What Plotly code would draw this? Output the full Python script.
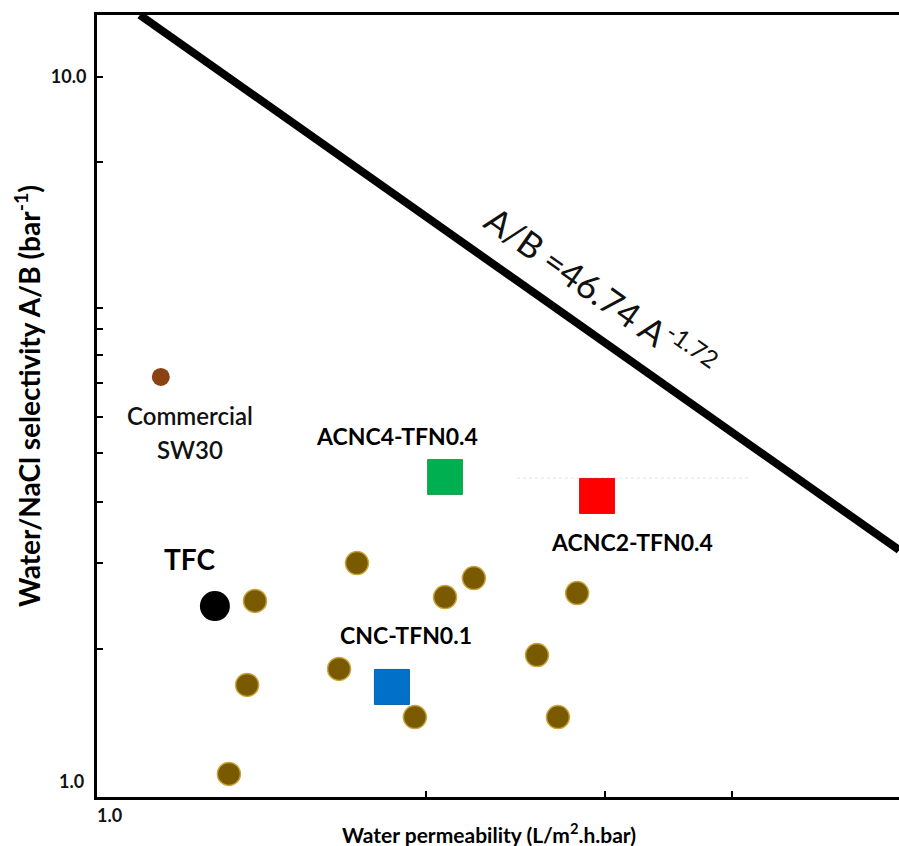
import numpy as np
import plotly.graph_objects as go

# ---------------- data ----------------
sw30_x = [1.097]
sw30_y = [3.76]

tfc_x = [1.240]
tfc_y = [1.781]

other_x = [1.358, 1.334, 1.280, 1.711, 2.089, 2.230, 2.818, 1.643, 2.573, 1.951, 2.698]
other_y = [1.811, 1.377, 1.030, 2.049, 1.834, 1.951, 1.858, 1.451, 1.518, 1.240, 1.240]

acnc4_x = [2.089]
acnc4_y = [2.713]

acnc2_x = [2.948]
acnc2_y = [2.550]

cnc_x = [1.852]
cnc_y = [1.368]

# upper-bound trade-off line (end points)
bound_x = [1.046, 5.845]
bound_y = [12.24, 2.138]

# faint dotted guide
guide_x = [2.459, 4.17]
guide_y = [2.704, 2.704]

x_tick_vals = [2, 3, 4]
y_tick_vals = [10, 7.58, 4.71, 4.40, 4.04, 3.69, 3.30, 2.93, 2.50, 2.05, 1.55]
y_tick_text = ["10.0", "", "", "", "", "", "", "", "", "", ""]

FONT = "Lato, 'Open Sans', sans-serif"

fig = go.Figure()

fig.add_trace(go.Scatter(x=guide_x, y=guide_y, mode="lines",
                         line=dict(color="#ebebeb", width=1.5, dash="dot"),
                         hoverinfo="skip"))
fig.add_trace(go.Scatter(x=bound_x, y=bound_y, mode="lines",
                         line=dict(color="black", width=8)))

fig.add_trace(go.Scatter(x=other_x, y=other_y, mode="markers",
                         marker=dict(symbol="circle", size=23, color="#7a5a00",
                                     line=dict(color="#c9a43a", width=1.5))))
fig.add_trace(go.Scatter(x=sw30_x, y=sw30_y, mode="markers",
                         marker=dict(symbol="circle", size=18, color="#8b4212",
                                     line=dict(width=0))))
fig.add_trace(go.Scatter(x=tfc_x, y=tfc_y, mode="markers",
                         marker=dict(symbol="circle", size=30, color="black",
                                     line=dict(width=0))))
fig.add_trace(go.Scatter(x=acnc4_x, y=acnc4_y, mode="markers",
                         marker=dict(symbol="square", size=35, color="#00b050",
                                     line=dict(color="#2aa050", width=1))))
fig.add_trace(go.Scatter(x=acnc2_x, y=acnc2_y, mode="markers",
                         marker=dict(symbol="square", size=35, color="#ff0000",
                                     line=dict(color="#e81010", width=1))))
fig.add_trace(go.Scatter(x=cnc_x, y=cnc_y, mode="markers",
                         marker=dict(symbol="square", size=35, color="#0070c8",
                                     line=dict(color="#1060b0", width=1))))

lbl = dict(family=FONT, size=23, color="black", weight="bold")

def label(xv, yv, text, dx, dy, font):
    fig.add_annotation(x=np.log10(xv), y=np.log10(yv), xref="x", yref="y",
                       text=text, showarrow=False, xshift=dx, yshift=dy,
                       font=font, xanchor="center", yanchor="middle")

label(sw30_x[0], sw30_y[0], "Commercial", 29, -39,
      dict(family=FONT, size=24, color="#111111", weight=600))
label(sw30_x[0], sw30_y[0], "SW30", 29, -73,
      dict(family=FONT, size=24, color="#111111", weight=600))
label(tfc_x[0], tfc_y[0], "TFC", -25, 47,
      dict(family=FONT, size=28, color="black", weight="bold"))
label(acnc4_x[0], acnc4_y[0], "ACNC4-TFN0.4", -48, 41, lbl)
label(acnc2_x[0], acnc2_y[0], "ACNC2-TFN0.4", 35, -46, lbl)
label(cnc_x[0], cnc_y[0], "CNC-TFN0.1", 14, 52, lbl)

# equation along the bound line
fig.add_annotation(x=0.4734, y=0.6969, xref="x", yref="y",
                   text="A/B =46.74 A<sup>-1.72</sup>", showarrow=False,
                   textangle=35.2,
                   font=dict(family=FONT, size=35, color="#111111"))

# tick labels that sit away from a tick
fig.add_annotation(x=0, y=0, xref="paper", yref="y", text="1.0",
                   showarrow=False, xanchor="right", yanchor="middle",
                   xshift=-11, yshift=2,
                   font=dict(family=FONT, size=18, color="#111111", weight="bold"))
fig.add_annotation(x=0, y=0, xref="paper", yref="paper", text="1.0",
                   showarrow=False, xanchor="left", yanchor="top",
                   xshift=-2, yshift=-5,
                   font=dict(family=FONT, size=18, color="#111111", weight="bold"))

# axis titles
fig.add_annotation(x=0, y=0.5, xref="paper", yref="paper",
                   text="Water/NaCl selectivity A/B (bar<sup>-1</sup>)",
                   showarrow=False, textangle=-90, xanchor="center", yanchor="middle",
                   xshift=-70, yshift=10,
                   font=dict(family=FONT, size=28, color="black", weight="bold"))
fig.add_annotation(x=0.5, y=0, xref="paper", yref="paper",
                   text="Water permeability (L/m<sup>2</sup>.h.bar)",
                   showarrow=False, xanchor="center", yanchor="middle",
                   xshift=-9, yshift=-36,
                   font=dict(family=FONT, size=21, color="black", weight="bold"))

fig.update_xaxes(type="log", range=[-0.0226, 0.7667],
                 tickvals=x_tick_vals, ticktext=["", "", ""],
                 ticks="inside", ticklen=6, tickwidth=2, tickcolor="black",
                 showline=True, linecolor="black", linewidth=3, mirror=True,
                 showgrid=False, zeroline=False)
fig.update_yaxes(type="log", range=[-0.0198, 1.0878],
                 tickvals=y_tick_vals, ticktext=y_tick_text,
                 ticks="inside", ticklen=6, tickwidth=2, tickcolor="black",
                 ticklabelstandoff=4,
                 tickfont=dict(family=FONT, size=18, color="#111111", weight="bold"),
                 showline=True, linecolor="black", linewidth=3, mirror=False,
                 showgrid=False, zeroline=False)

fig.update_layout(width=899, height=846,
                  margin=dict(l=97, r=0, t=15, b=49),
                  paper_bgcolor="white", plot_bgcolor="white",
                  showlegend=False, font=dict(family=FONT))

fig.write_html("out.html")
